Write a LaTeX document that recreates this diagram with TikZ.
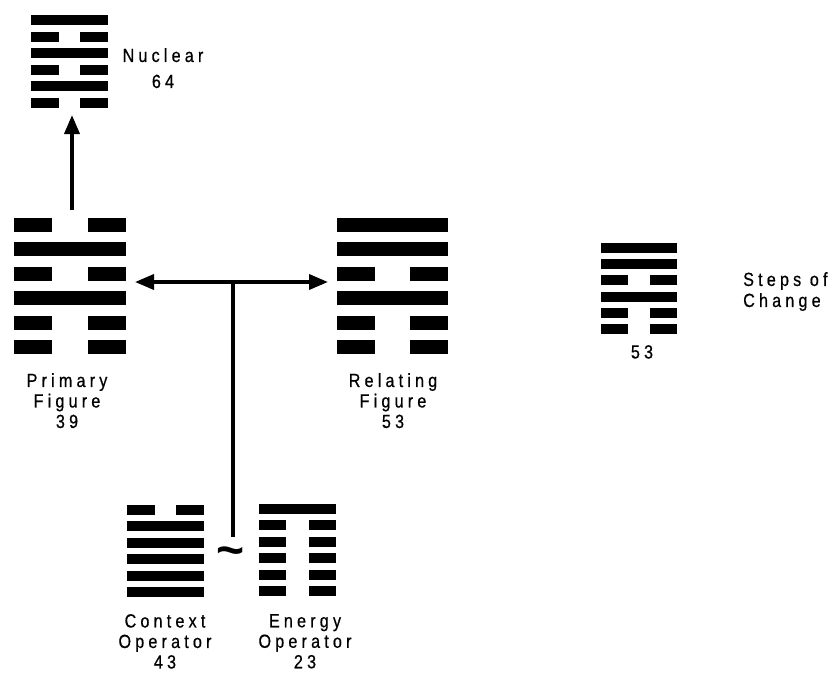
\documentclass[tikz,border=0pt]{standalone}
\usepackage{fontspec}
\setmainfont{Liberation Sans}
\newfontfamily\lblfont{Liberation Sans}[FakeStretch=0.85,LetterSpace=22,FakeBold=0.6]
\newfontfamily\tildefont{Liberation Sans Bold}
\usetikzlibrary{arrows.meta}

\tikzset{
  hexbox/.style={inner sep=0pt, outer sep=0pt, draw=none},
  bar/.style={fill=black},
  conn/.style={line width=3.6pt, draw=black},
  tip/.style={-{Triangle[length=19pt,width=15pt]}},
  lbl/.style={font=\lblfont\fontsize{19}{20.5}\selectfont, align=center, inner sep=0pt},
}

% hexagram: name, left x, top y, width, bar height, pitch, broken-segment width,
% lines from top to bottom (1 = solid, 0 = broken)
\newcommand{\hexagram}[8]{%
  \node[hexbox, minimum width=#4pt, minimum height={5*#6pt+#5pt}, anchor=north west] (#1) at (#2,#3) {};
  \foreach \b [count=\i from 0] in {#8} {
    \pgfmathsetmacro{\yt}{#3+\i*#6}
    \ifnum\b=1
      \fill[bar] (#2,\yt) rectangle ++(#4,#5);
    \else
      \fill[bar] (#2,\yt) rectangle ++(#7,#5);
      \fill[bar] ({#2+#4-#7},\yt) rectangle ++(#7,#5);
    \fi
  }
}

\begin{document}
\begin{tikzpicture}[x=1pt, y=-1pt]
  \useasboundingbox (0,0) rectangle (837,680);

  % figures
  \hexagram{nuclear}{31}{15}{77}{10}{16.6}{28}{1,0,1,0,1,0}
  \hexagram{primary}{14}{218}{112}{14}{24.4}{38}{0,1,0,1,0,0}
  \hexagram{relating}{337}{218}{111}{14}{24.4}{38}{1,1,0,1,0,0}
  \hexagram{steps}{601}{243}{76}{10}{16.2}{27}{1,1,0,1,0,0}
  \hexagram{context}{127}{505}{77}{10}{16.4}{28}{0,1,1,1,1,1}
  \hexagram{energy}{259}{504}{77}{10}{16.4}{27}{1,0,0,0,0,0}

  % connectors
  \draw[conn, tip, shorten <=8pt, shorten >=7pt]
    ([xshift=2pt]primary.north) -- ([xshift=2pt]primary.north |- nuclear.south);
  \coordinate (junc) at (233,282);
  \coordinate (stemend) at (233,537);
  \draw[conn, tip, shorten >=9pt] (junc) -- (primary.east |- junc);
  \draw[conn, tip, shorten >=9pt] (junc) -- (relating.west |- junc);
  \draw[conn] (junc) -- (stemend);

  % the two operators are paired by a tilde
  \node[inner sep=0pt] (tilde) at (231,557) {\tildefont\fontsize{48}{48}\selectfont\textasciitilde};

  % labels
  \node[lbl, anchor=north, font=\lblfont\fontsize{19}{26}\selectfont] (nuclab) at (163,48) {Nuclear\\64};
  \node[lbl, anchor=north] (primlab) at (67,373) {Primary\\Figure\\39};
  \node[lbl, anchor=north] (rellab) at (393,373) {Relating\\Figure\\53};
  \node[lbl, anchor=north] (stepsnum) at (642,345) {53};
  \node[lbl, anchor=north west, align=left, font=\lblfont\fontsize{19}{21}\selectfont] (stepslab) at (743,272) {Steps of\\Change};
  \node[lbl, anchor=north] (ctxlab) at (165,614) {Context\\Operator\\43};
  \node[lbl, anchor=north] (enlab) at (305,614) {Energy\\Operator\\23};
\end{tikzpicture}
\end{document}
